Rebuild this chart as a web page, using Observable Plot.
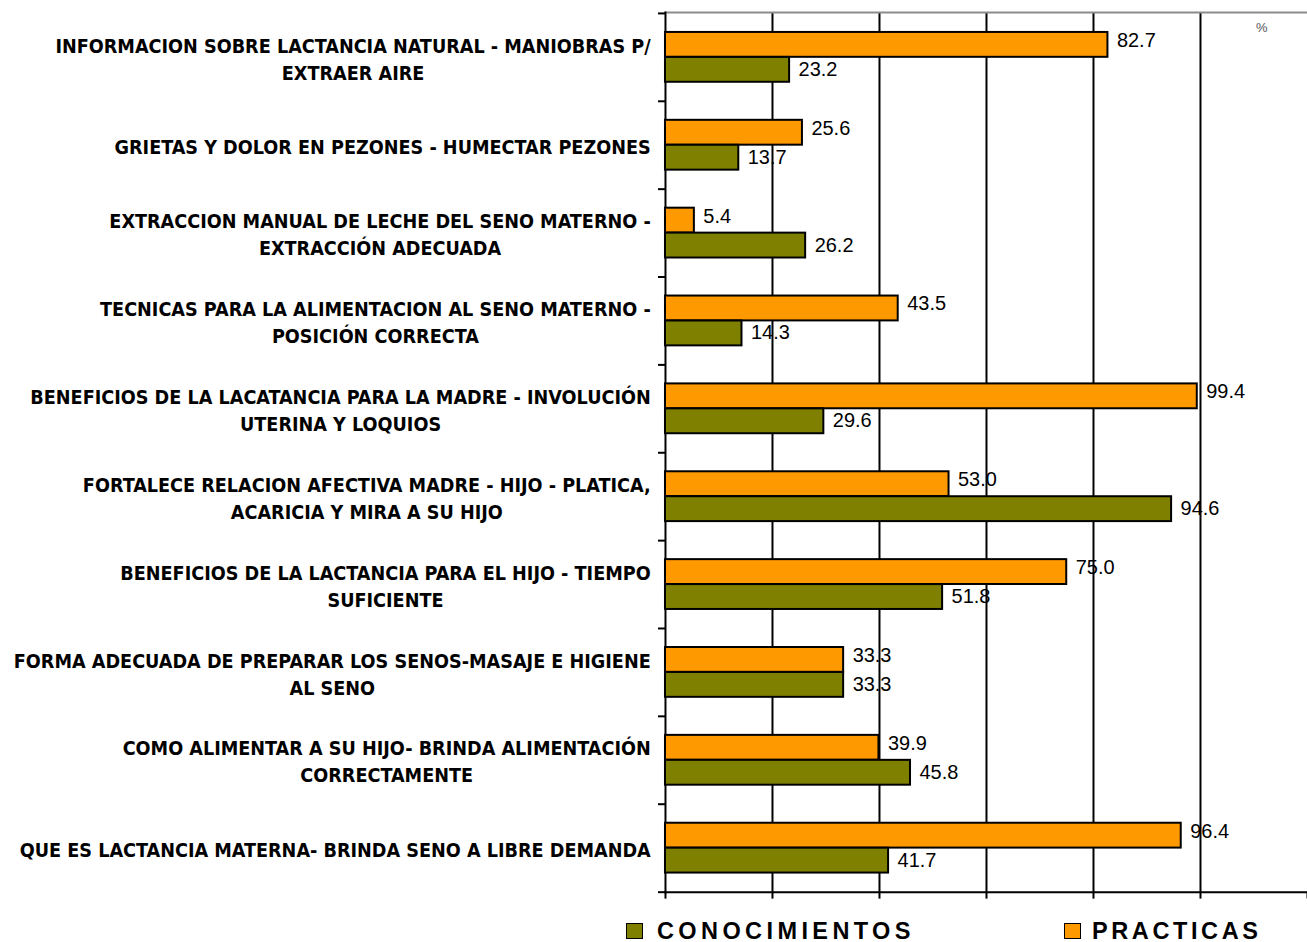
<!DOCTYPE html>
<html><head><meta charset="utf-8">
<script src="https://cdn.jsdelivr.net/npm/d3@7"></script>
<script src="https://cdn.jsdelivr.net/npm/@observablehq/plot@0.6"></script>
<style>
html,body{margin:0;padding:0;background:#fff;overflow:hidden;width:1307px;height:942px}
#chart svg{display:block}
#legend{position:relative;height:37px;font-family:"Liberation Sans",Arial,sans-serif;font-weight:bold;font-size:23.5px;line-height:24px;color:#000}
.sw{position:absolute;top:19px;width:15px;height:14px;border:1.5px solid #000}
.lt{position:absolute;top:15px;white-space:nowrap}
</style></head>
<body><div id="chart"></div><div id="legend"></div>
<script>
const categories = [
  "INFORMACION SOBRE LACTANCIA NATURAL - MANIOBRAS P/\nEXTRAER AIRE",
  "GRIETAS Y DOLOR EN PEZONES - HUMECTAR PEZONES",
  "EXTRACCION MANUAL DE LECHE DEL SENO MATERNO -\nEXTRACCIÓN ADECUADA",
  "TECNICAS PARA LA ALIMENTACION AL SENO MATERNO -\nPOSICIÓN CORRECTA",
  "BENEFICIOS DE LA LACATANCIA PARA LA MADRE - INVOLUCIÓN\nUTERINA Y LOQUIOS",
  "FORTALECE RELACION AFECTIVA MADRE - HIJO - PLATICA,\nACARICIA Y MIRA A SU HIJO",
  "BENEFICIOS DE LA LACTANCIA PARA EL HIJO - TIEMPO\nSUFICIENTE",
  "FORMA ADECUADA DE PREPARAR LOS SENOS-MASAJE E HIGIENE\nAL SENO",
  "COMO ALIMENTAR A SU HIJO- BRINDA ALIMENTACIÓN\nCORRECTAMENTE",
  "QUE ES LACTANCIA MATERNA- BRINDA SENO A LIBRE DEMANDA"
];
const practicas = [82.7, 25.6, 5.4, 43.5, 99.4, 53.0, 75.0, 33.3, 39.9, 96.4];
const conocimientos = [23.2, 13.7, 26.2, 14.3, 29.6, 94.6, 51.8, 33.3, 45.8, 41.7];
const seriesNames = ["CONOCIMIENTOS", "PRACTICAS"];
const seriesColors = ["#808000", "#FF9900"];
const xTicks = [0, 20, 40, 60, 80, 100, 120];
const gridValues = [20, 40, 60, 80, 100];
const unitLabel = "%";

const W = 1309, H = 905, ML = 666, MT = 12, MB = 12;
const band = (H - MT - MB) / categories.length;

const rowsP = categories.map((c, i) => ({cat: c, value: practicas[i], series: seriesNames[1]}));
const rowsC = categories.map((c, i) => ({cat: c, value: conocimientos[i], series: seriesNames[0]}));

// category label font: condensed bold, sized so the widest line fits the left margin like the original
const catFont = "DejaVu Sans Condensed";
const catWeight = "bold";
const ctx = document.createElement("canvas").getContext("2d");
const lineW = (s, size) => { ctx.font = `${catWeight} ${size}px "${catFont}"`; return ctx.measureText(s).width; };
const allLines = categories.flatMap(c => c.split("\n"));
const refSize = 20;
const widest = Math.max(...allLines.map(s => lineW(s, refSize)));
const catSize = Math.min(22, refSize * 638 / widest);
const catWidth = c => Math.max(...c.split("\n").map(s => lineW(s, catSize)));

const catMarks = categories.map(c => Plot.text([c], {
  y: d => d, text: d => d, frameAnchor: "left", textAnchor: "middle",
  dx: -(15 + catWidth(c) / 2), lineHeight: 27 / catSize,
  fontSize: catSize, fontFamily: catFont, fontWeight: catWeight, fill: "#000"
}));

const fmt = v => v.toFixed(1);
const valFont = "Liberation Sans";

const plot = Plot.plot({
  width: W, height: H,
  marginLeft: ML, marginRight: 0, marginTop: MT, marginBottom: MB,
  x: {domain: [0, 120], axis: null},
  y: {domain: categories, padding: 0, axis: null},
  style: {background: "#fff", overflow: "visible"},
  marks: [
    Plot.ruleX(gridValues, {stroke: "#000", strokeWidth: 2}),
    Plot.frame({anchor: "top", stroke: "#8c8c8c", strokeWidth: 2}),
    Plot.frame({anchor: "left", stroke: "#000", strokeWidth: 2}),
    Plot.frame({anchor: "bottom", stroke: "#000", strokeWidth: 2}),
    Plot.axisX({ticks: xTicks, tickSize: 7, tickFormat: () => "", label: null, stroke: "#000", strokeWidth: 2, anchor: "bottom"}),
    Plot.ruleY(categories, {y: d => d, x1: -7 * 120 / (W - ML), x2: 0, dy: -band / 2, stroke: "#000", strokeWidth: 2}),
    Plot.ruleY(categories.slice(-1), {y: d => d, x1: -7 * 120 / (W - ML), x2: 0, dy: band / 2, stroke: "#000", strokeWidth: 2}),
    Plot.barX(rowsP, {x: "value", y: "cat", fill: seriesColors[1], stroke: "#000", strokeWidth: 2, insetTop: 19, insetBottom: band - 44}),
    Plot.barX(rowsC, {x: "value", y: "cat", fill: seriesColors[0], stroke: "#000", strokeWidth: 2, insetTop: 44, insetBottom: band - 69}),
    Plot.text(rowsP, {x: "value", y: "cat", text: d => fmt(d.value), dx: 9, dy: -17, textAnchor: "start", fontSize: 20, fontFamily: valFont, fill: "#000", ariaLabel: "vlabels"}),
    Plot.text(rowsC, {x: "value", y: "cat", text: d => fmt(d.value), dx: 9, dy: 12, textAnchor: "start", fontSize: 20, fontFamily: valFont, fill: "#000", ariaLabel: "vlabels"}),
    Plot.text([unitLabel], {frameAnchor: "top-right", dx: -40, dy: 10, text: d => d, fontSize: 13, fontFamily: valFont, fill: "#555"}),
    ...catMarks
  ]
});
document.getElementById("chart").appendChild(plot);

// white label boxes behind value labels
plot.querySelectorAll('g[aria-label="vlabels"] text').forEach(t => {
  const b = t.getBBox();
  const r = document.createElementNS("http://www.w3.org/2000/svg", "rect");
  r.setAttribute("x", b.x - 3); r.setAttribute("y", b.y - 3);
  r.setAttribute("width", b.width + 9); r.setAttribute("height", b.height + 6);
  r.setAttribute("fill", "#fff");
  const tr = t.getAttribute("transform");
  if (tr) r.setAttribute("transform", tr);
  t.parentNode.insertBefore(r, t);
});

const legend = document.getElementById("legend");
const legendPos = [[626, 657, 4.4], [1064, 1092, 3.6]];
seriesNames.forEach((s, i) => {
  const sw = document.createElement("div");
  sw.className = "sw"; sw.style.left = legendPos[i][0] + "px"; sw.style.background = seriesColors[i];
  const lt = document.createElement("div");
  lt.className = "lt"; lt.style.left = legendPos[i][1] + "px"; lt.style.letterSpacing = legendPos[i][2] + "px"; lt.textContent = s;
  legend.appendChild(sw); legend.appendChild(lt);
});
</script></body></html>
